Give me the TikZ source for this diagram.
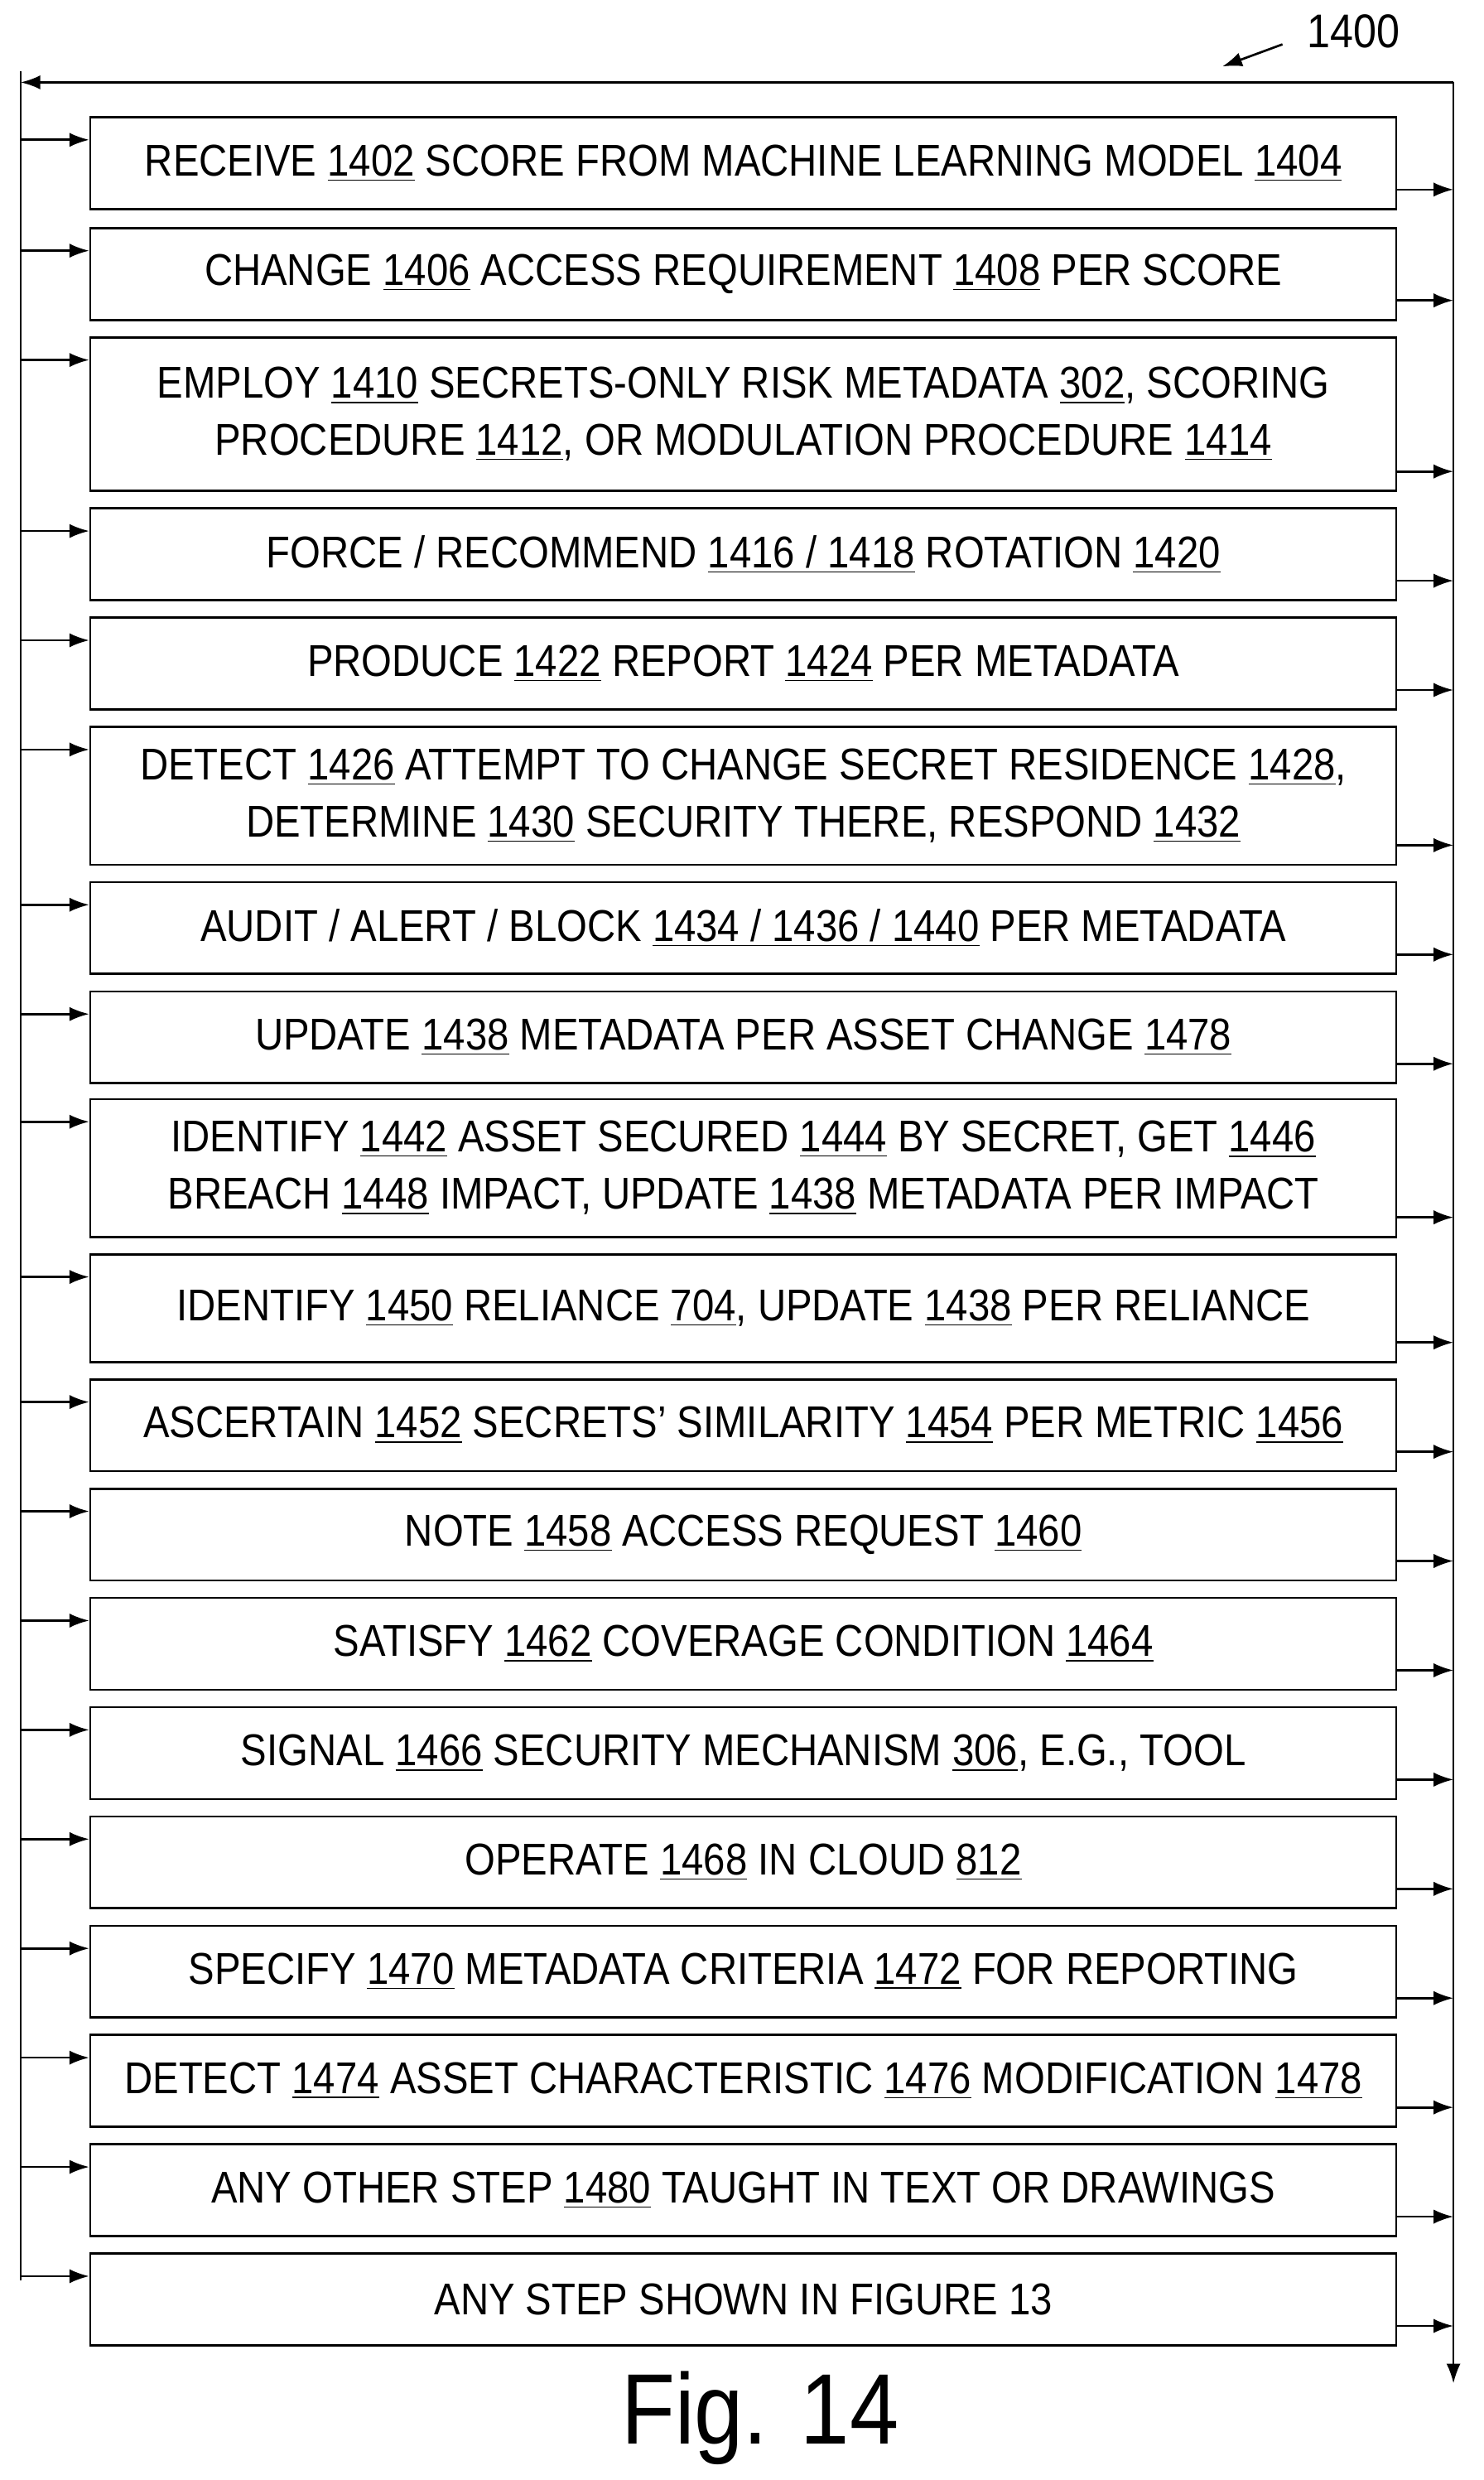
\documentclass[tikz,border=0pt]{standalone}
\usepackage{fontspec}
\setmainfont{Liberation Sans}[FakeStretch=0.88]
\usetikzlibrary{arrows.meta, positioning}
\newcommand{\un}[1]{\underline{#1}}
\tikzset{%
	stepbox/.style={draw, thick, rectangle, minimum width=16.5cm, align=center,%
		inner sep=0mm, font=\fontsize{16}{20.5}\selectfont},
	flow/.style={thick},
	into/.style={-{Latex[length=2.5mm,width=1.8mm]}, thick}
}
\begin{document}
\begin{tikzpicture}[x=0.02cm, y=-0.02cm]
		\useasboundingbox (0,0) rectangle (937,1566);
		% steps, centre x = 469.5
		\node[stepbox, minimum height=1.16cm] (b1)  at (469.5,103)  {RECEIVE \un{1402} SCORE FROM MACHINE LEARNING MODEL \un{1404}};
		\node[stepbox, minimum height=1.16cm] (b2)  at (469.5,173)  {CHANGE \un{1406} ACCESS REQUIREMENT \un{1408} PER SCORE};
		\node[stepbox, minimum height=1.94cm] (b3)  at (469.5,261.5) {EMPLOY \un{1410} SECRETS-ONLY RISK METADATA \un{302}, SCORING\\PROCEDURE \un{1412}, OR MODULATION PROCEDURE \un{1414}};
		\node[stepbox, minimum height=1.16cm] (b4)  at (469.5,350)  {FORCE / RECOMMEND \un{1416 / 1418} ROTATION \un{1420}};
		\node[stepbox, minimum height=1.16cm] (b5)  at (469.5,419)  {PRODUCE \un{1422} REPORT \un{1424} PER METADATA};
		\node[stepbox, minimum height=1.74cm] (b6)  at (469.5,502.5) {DETECT \un{1426} ATTEMPT TO CHANGE SECRET RESIDENCE \un{1428},\\DETERMINE \un{1430} SECURITY THERE, RESPOND \un{1432}};
		\node[stepbox, minimum height=1.16cm] (b7)  at (469.5,586)  {AUDIT / ALERT / BLOCK \un{1434 / 1436 / 1440} PER METADATA};
		\node[stepbox, minimum height=1.16cm] (b8)  at (469.5,655)  {UPDATE \un{1438} METADATA PER ASSET CHANGE \un{1478}};
		\node[stepbox, minimum height=1.74cm] (b9)  at (469.5,737.5) {IDENTIFY \un{1442} ASSET SECURED \un{1444} BY SECRET, GET \un{1446}\\BREACH \un{1448} IMPACT, UPDATE \un{1438} METADATA PER IMPACT};
		\node[stepbox, minimum height=1.36cm] (b10) at (469.5,826)  {IDENTIFY \un{1450} RELIANCE \un{704}, UPDATE \un{1438} PER RELIANCE};
		\node[stepbox, minimum height=1.16cm] (b11) at (469.5,900)  {ASCERTAIN \un{1452} SECRETS’ SIMILARITY \un{1454} PER METRIC \un{1456}};
		\node[stepbox, minimum height=1.16cm] (b12) at (469.5,969)  {NOTE \un{1458} ACCESS REQUEST \un{1460}};
		\node[stepbox, minimum height=1.16cm] (b13) at (469.5,1038) {SATISFY \un{1462} COVERAGE CONDITION \un{1464}};
		\node[stepbox, minimum height=1.16cm] (b14) at (469.5,1107) {SIGNAL \un{1466} SECURITY MECHANISM \un{306}, E.G., TOOL};
		\node[stepbox, minimum height=1.16cm] (b15) at (469.5,1176) {OPERATE \un{1468} IN CLOUD \un{812}};
		\node[stepbox, minimum height=1.16cm] (b16) at (469.5,1245) {SPECIFY \un{1470} METADATA CRITERIA \un{1472} FOR REPORTING};
		\node[stepbox, minimum height=1.16cm] (b17) at (469.5,1314) {DETECT \un{1474} ASSET CHARACTERISTIC \un{1476} MODIFICATION \un{1478}};
		\node[stepbox, minimum height=1.16cm] (b18) at (469.5,1383) {ANY OTHER STEP \un{1480} TAUGHT IN TEXT OR DRAWINGS};
		\node[stepbox, minimum height=1.16cm] (b19) at (469.5,1452) {ANY STEP SHOWN IN FIGURE 13};
		% frame
		\coordinate (tl) at (13,45);
		\coordinate (bl) at (13,1440);
		\coordinate (tr) at (918,52);
		\coordinate (br) at (918,1505);
		\draw [flow] (tl) -- (bl);
		\draw [into] (tr) -- (13,52);
		\draw [into] (tr) -- (br);
		% arrows in and out
		\foreach \b in {1,...,19} {
			\draw [into] ([yshift=-0.3cm]b\b.north west -| tl) -- ([yshift=-0.3cm]b\b.north west);
			\draw [into] ([yshift=0.26cm]b\b.south east) -- ([yshift=0.26cm]b\b.south east -| br);
		}
		\node[font=\fontsize{17}{20}\selectfont] (lbl) at (855,20) {1400};
		\coordinate (lblend) at (772,42);
		\draw [into] (810,28) -- (lblend);
		\node[font=\fontsize{36}{40}\selectfont] (fig) at (480,1527) {Fig. 14};
	\end{tikzpicture}
\end{document}
